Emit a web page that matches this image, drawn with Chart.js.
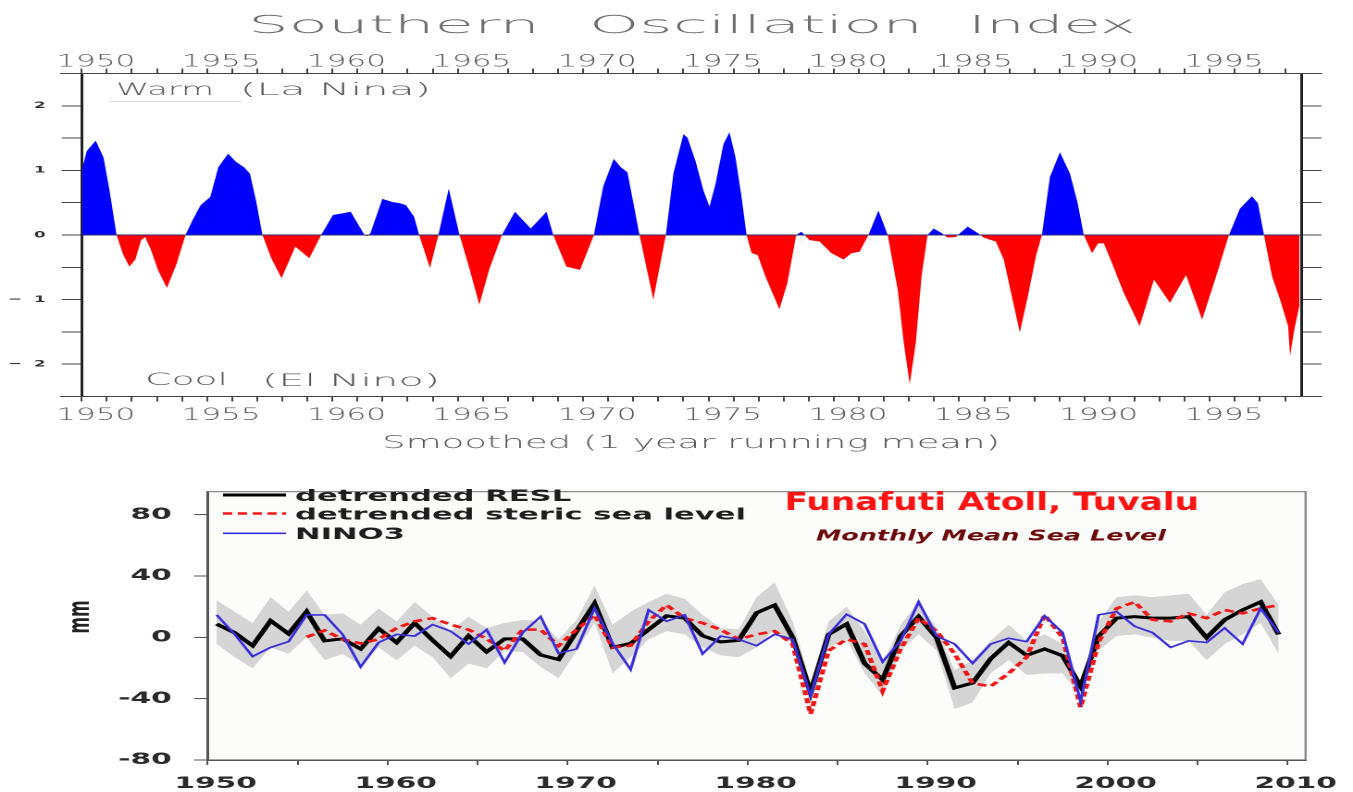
<!DOCTYPE html>
<html>
<head>
<meta charset="utf-8">
<script src="https://cdn.jsdelivr.net/npm/chart.js@4.4.1/dist/chart.umd.min.js"></script>
<style>
  html, body { margin: 0; padding: 0; background: #fff; }
  #fig { position: relative; width: 1353px; height: 792px; overflow: hidden; background: #fff; }
  #fig canvas { position: absolute; left: 0; }
  #soi { top: 0; }
  #msl { top: 470px; }
</style>
</head>
<body>
<div id="fig">
  <canvas id="soi" width="731" height="460" style="width:1353px;height:460px"></canvas>
  <canvas id="msl" width="731" height="322" style="width:1353px;height:322px"></canvas>
</div>
<script>
// ---------- Southern Oscillation Index (1-year running mean) ----------
const soiYear = [
  1950.00, 1950.20, 1950.56, 1950.87, 1951.11, 1951.39, 1951.65, 1951.90, 1952.14, 1952.37,
  1952.53, 1952.75, 1953.05, 1953.40, 1953.79, 1954.14, 1954.42, 1954.74, 1955.13, 1955.45,
  1955.84, 1956.16, 1956.47, 1956.71, 1956.95, 1957.21, 1957.55, 1957.97, 1958.52, 1959.08,
  1959.55, 1960.02, 1960.34, 1960.73, 1961.28, 1961.40, 1961.52, 1961.99, 1962.39, 1962.71,
  1962.94, 1963.26, 1963.46, 1963.89, 1964.21, 1964.64, 1965.07, 1965.45, 1965.86, 1966.25,
  1966.76, 1967.28, 1967.91, 1968.54, 1968.81, 1969.33, 1969.88, 1970.43, 1970.80, 1971.22,
  1971.50, 1971.77, 1972.25, 1972.80, 1973.30, 1973.60, 1974.00, 1974.16, 1974.48, 1974.80,
  1975.04, 1975.28, 1975.60, 1975.84, 1976.08, 1976.32, 1976.52, 1976.72, 1976.96, 1977.27,
  1977.83, 1978.15, 1978.50, 1978.71, 1979.03, 1979.43, 1979.90, 1980.39, 1980.71, 1981.03,
  1981.38, 1981.78, 1982.15, 1982.55, 1982.79, 1983.03, 1983.27, 1983.50, 1983.74, 1983.98,
  1984.30, 1984.54, 1984.86, 1985.34, 1985.74, 1985.98, 1986.46, 1986.78, 1987.10, 1987.42,
  1987.74, 1988.06, 1988.30, 1988.62, 1989.02, 1989.42, 1989.73, 1989.97, 1990.30, 1990.54,
  1990.77, 1991.10, 1991.57, 1992.20, 1992.77, 1993.41, 1994.05, 1994.69, 1995.25, 1995.76,
  1996.20, 1996.68, 1996.92, 1997.16, 1997.48, 1997.80, 1998.12, 1998.20, 1998.37, 1998.57
];
const soiValue = [
   1.00,  1.30,  1.46,  1.20,  0.69,  0.00, -0.30, -0.49, -0.38, -0.08,
  -0.03, -0.22, -0.55, -0.82, -0.44,  0.00,  0.23,  0.46,  0.59,  1.05,
   1.26,  1.13,  1.05,  0.95,  0.54,  0.00, -0.35, -0.67, -0.18, -0.36,
   0.00,  0.31,  0.33,  0.36,  0.00, -0.02,  0.03,  0.56,  0.51,  0.49,
   0.46,  0.28,  0.00, -0.51, -0.03,  0.72,  0.00, -0.50, -1.08, -0.54,
   0.00,  0.36,  0.10,  0.36,  0.00, -0.49, -0.54,  0.00,  0.75,  1.18,
   1.05,  0.97,  0.00, -1.00,  0.00,  0.95,  1.56,  1.51,  1.15,  0.69,
   0.44,  0.79,  1.41,  1.59,  1.20,  0.59,  0.00, -0.28, -0.31, -0.64,
  -1.15, -0.74,  0.00,  0.05, -0.08, -0.10, -0.28, -0.38, -0.28, -0.26,
   0.00,  0.38,  0.00, -0.85, -1.67, -2.31, -1.67, -0.64,  0.00,  0.10,
   0.03, -0.04, -0.03,  0.13,  0.03, -0.04, -0.10, -0.38, -0.95, -1.51,
  -0.95, -0.33,  0.00,  0.90,  1.28,  0.95,  0.49,  0.00, -0.28, -0.13,
  -0.13, -0.44, -0.90, -1.41, -0.69, -1.05, -0.62, -1.31, -0.64,  0.00,
   0.41,  0.60,  0.49,  0.00, -0.64, -1.00, -1.41, -1.87, -1.46, -1.10
];
const soiLabelYears = [1950, 1955, 1960, 1965, 1970, 1975, 1980, 1985, 1990, 1995];
const soiLabelValues = [-2, -1, 0, 1, 2];

// ---------- Funafuti annual sea level anomalies (mm) ----------
const slYears = [
  1950, 1951, 1952, 1953, 1954, 1955, 1956, 1957, 1958, 1959,
  1960, 1961, 1962, 1963, 1964, 1965, 1966, 1967, 1968, 1969,
  1970, 1971, 1972, 1973, 1974, 1975, 1976, 1977, 1978, 1979,
  1980, 1981, 1982, 1983, 1984, 1985, 1986, 1987, 1988, 1989,
  1990, 1991, 1992, 1993, 1994, 1995, 1996, 1997, 1998, 1999,
  2000, 2001, 2002, 2003, 2004, 2005, 2006, 2007, 2008, 2009
];
const reslValues = [
    8.7,   3.0,  -5.5,  10.8,   2.3,  16.7,  -2.3,  -1.0,  -7.6,   5.7,
   -3.4,   9.3,  -1.9, -12.5,   1.0,  -9.5,  -1.0,  -1.0, -11.5, -14.5,
    4.0,  22.0,  -6.6,  -4.0,   5.0,  14.0,  12.5,   1.0,  -3.0,  -2.0,
   16.0,  21.0,   0.0, -36.0,   1.9,   8.7, -17.0, -27.7,   0.8,  13.5,
   -0.2, -33.0, -29.8, -14.0,  -3.4, -11.8,  -7.6, -12.0, -32.0,   0.8,
   12.5,  13.5,  12.5,  12.5,  13.5,  -0.2,  11.4,  17.8,  23.1,   1.9
];
const stericValues = [
   null,  null,  null,  null,  null,   0.2,   4.5,  -1.3,  -4.0,  -1.3,
    6.0,  10.4,  12.5,   8.3,   5.0,  -1.0,  -8.7,   5.0,   5.0,  -5.5,
    5.0,  14.6,  -6.6,  -5.5,  10.4,  21.0,  12.5,   9.3,   5.0,  -1.3,
    1.9,   4.0,  -4.4, -50.0,  -8.7,  -1.3,  -4.4, -35.0,  -7.6,  12.5,
    4.0, -10.8, -30.0, -32.0, -23.5, -13.0,  14.6,  -0.2, -45.7,  -3.4,
   18.8,  23.0,  11.4,  10.4,  15.6,  12.5,  17.8,  15.6,  18.8,  21.0
];
const nino3Values = [
   14.6,   2.0, -12.5,  -6.6,  -2.8,  14.6,  14.6,   1.9, -19.3,  -3.4,
    1.9,   0.8,   8.3,   4.0,  -4.4,   5.0, -16.5,   3.0,  13.5, -10.5,
   -7.6,  19.0,  -4.0, -21.0,  17.8,  10.4,  14.6, -10.8,   0.8,  -1.3,
   -5.5,   2.0,  -1.3, -38.0,   1.9,  15.0,   8.7, -16.0,  -2.3,  23.1,
    0.8,  -4.4, -17.0,  -4.4,  -0.6,  -2.8,  14.0,   3.0, -42.0,  14.6,
   16.7,   7.2,   3.0,  -6.6,  -2.3,  -3.4,   6.1,  -4.4,  18.8,   3.0
];
const bandUpper = [
   24.1,  16.7,   9.3,  26.2,  16.7,  30.5,  14.6,  15.7,   8.3,  18.8,
   10.4,  23.1,  13.5,   4.0,  13.5,   6.1,   9.3,  11.4,  10.4,  -1.3,
   11.4,  33.7,   8.3,  16.7,  23.0,  28.4,  25.2,  14.6,   6.1,   5.1,
   26.2,  35.8,  10.4, -29.8,  10.4,  19.9,   4.0, -17.0,   8.3,  23.1,
    6.1, -21.4, -15.0,  -2.3,   8.3,  -2.3,   1.9,  -4.4, -29.8,  10.4,
   26.2,  27.3,  26.2,  27.3,  28.4,  14.6,  29.4,  34.7,  37.9,  21.0
];
const bandLower = [
   -4.4, -12.9, -20.3,  -6.6, -10.8,   0.0, -15.0, -10.8, -18.2,  -6.6,
  -15.0,  -5.5, -12.9, -26.7, -17.1, -20.3,  -8.7,  -9.7, -19.3, -26.7,
   -8.7,   9.3, -23.5, -12.9,  -1.3,   4.0,   1.9,  -6.6, -11.8, -12.9,
   -6.6,   5.1,  -4.4, -44.7,  -6.6,  -1.3, -23.5, -38.3,  -8.7,   1.9,
   -8.7, -46.8, -42.5, -23.5, -15.0, -24.6, -23.5, -23.5, -38.3,  -8.7,
    0.9,   1.9,  -0.2,  -2.3,  -2.3, -15.0,  -4.4,   1.9,   9.3, -10.8
];
const slYTicks = [-80, -40, 0, 40, 80];
const slXLabels = [1950, 1960, 1970, 1980, 1990, 2000, 2010];

// ---------- drawing helpers ----------
const CANVAS_W = 731;                 // canvas units across the figure
const STRETCH = 1353 / CANVAS_W;      // the figure is drawn wide
const sx = px => px / STRETCH;        // page x (px) -> canvas units
const FONT = '"DejaVu Sans", "Liberation Sans", sans-serif';

function fitText(ctx, str, x0, x1, baseline, font, color) {
  ctx.save();
  ctx.font = font;
  ctx.fillStyle = color;
  ctx.textAlign = 'left';
  ctx.textBaseline = 'alphabetic';
  const w = ctx.measureText(str).width;
  ctx.translate(x0, baseline);
  ctx.scale((x1 - x0) / w, 1);
  ctx.fillText(str, 0, 0);
  ctx.restore();
}

function hLine(ctx, x0, x1, y, color, width) {
  ctx.save();
  ctx.strokeStyle = color;
  ctx.lineWidth = width;
  ctx.beginPath();
  ctx.moveTo(x0, y);
  ctx.lineTo(x1, y);
  ctx.stroke();
  ctx.restore();
}

// ---------- top panel: SOI ----------
const SOI_TOP = 73.5, SOI_BOTTOM = 396.5, SOI_LEFT = sx(81.7), SOI_RIGHT = sx(1301.6);

const soiDecor = {
  id: 'soiDecor',
  afterDatasetsDraw(chart) {
    const { ctx, chartArea: a, scales } = chart;
    hLine(ctx, a.left, a.right, scales.y.getPixelForValue(0), '#2c2c70', 1);
  },
  afterDraw(chart) {
    const { ctx, chartArea: a, scales } = chart;
    const gray = '#585858';
    // axis lines run a little past the frame
    hLine(ctx, sx(60), sx(1322), a.top, '#444', 1);
    hLine(ctx, sx(60), sx(1322), a.bottom, '#444', 1);

    // title
    const tFont = '300 25px ' + FONT;
    fitText(ctx, 'Southern', sx(248), sx(540), 33, tFont, '#6e6e6e');
    fitText(ctx, 'Oscillation', sx(589), sx(923), 33, tFont, '#6e6e6e');
    fitText(ctx, 'Index', sx(968), sx(1136), 33, tFont, '#6e6e6e');

    // year labels on both horizontal axes
    const lFont = '300 16.5px ' + FONT;
    soiLabelYears.forEach(yr => {
      const c = scales.x.getPixelForValue(yr) + sx(14);
      fitText(ctx, String(yr), c - sx(39.5), c + sx(39.5), 66.5, lFont, gray);
      fitText(ctx, String(yr), c - sx(39.5), c + sx(39.5), 420, lFont, gray);
    });

    // index labels on the left
    ctx.save();
    ctx.font = 'bold 9px ' + FONT;
    ctx.fillStyle = '#333';
    ctx.textAlign = 'right';
    ctx.textBaseline = 'middle';
    soiLabelValues.forEach(v => {
      const py = scales.y.getPixelForValue(v);
      ctx.fillText(String(Math.abs(v)), sx(45.5), py);
      if (v < 0) ctx.fillText('\u2212', sx(22), py);
    });
    ctx.restore();

    // annotations
    const aFont = '300 17px ' + FONT;
    fitText(ctx, 'Warm', sx(116), sx(214), 95, aFont, gray);
    fitText(ctx, '(La Nina)', sx(240), sx(431), 95, aFont, gray);
    hLine(ctx, sx(109), sx(241), 101.5, '#dcdcdc', 1);
    fitText(ctx, 'Cool', sx(145), sx(228), 385, aFont, gray);
    fitText(ctx, '(El Nino)', sx(262), sx(440), 386, aFont, gray);
    fitText(ctx, 'Smoothed (1 year running mean)', sx(382), sx(1000), 448, '300 18px ' + FONT, gray);
  }
};

const soiAxisX = (position, height) => ({
  type: 'linear',
  position,
  min: 1950,
  max: 1998.66,
  ticks: { stepSize: 1, autoSkip: false, includeBounds: false, display: false },
  grid: { drawOnChartArea: false, drawTicks: true, tickLength: 5, color: '#444', lineWidth: 1 },
  border: { display: true, color: '#444', width: 1 },
  afterFit: s => { s.height = height; }
});
const soiAxisY = (position, width, tick) => ({
  type: 'linear',
  position,
  min: -2.5,
  max: 2.5,
  ticks: { stepSize: 0.5, includeBounds: false, display: false },
  grid: { drawOnChartArea: false, drawTicks: true, tickLength: tick, color: '#444', lineWidth: 1 },
  border: { display: true, color: '#222', width: 1.5 },
  afterFit: s => { s.width = width; }
});

new Chart(document.getElementById('soi'), {
  type: 'line',
  data: {
    datasets: [{
      label: 'SOI',
      data: soiYear.map((x, i) => ({ x, y: soiValue[i] })),
      borderWidth: 0,
      borderColor: 'rgba(0,0,0,0)',
      pointRadius: 0,
      tension: 0,
      fill: { target: 'origin', above: '#0000ff', below: '#ff0000' }
    }]
  },
  options: {
    responsive: false,
    devicePixelRatio: 2,
    animation: false,
    events: [],
    layout: { padding: 0 },
    plugins: { legend: { display: false }, tooltip: { enabled: false } },
    scales: {
      x: soiAxisX('bottom', 460 - SOI_BOTTOM),
      x2: soiAxisX('top', SOI_TOP),
      y: soiAxisY('left', SOI_LEFT, sx(20)),
      y2: soiAxisY('right', CANVAS_W - SOI_RIGHT, sx(20))
    }
  },
  plugins: [soiDecor]
});

// ---------- bottom panel: Funafuti sea level ----------
const MSL_TOP = 13.3, MSL_BOTTOM = 290, MSL_LEFT = sx(207.6), MSL_RIGHT = sx(1305.6);
const legendOrder = [2, 1, 0];

const mslDecor = {
  id: 'mslDecor',
  beforeDraw(chart) {
    const { ctx, chartArea: a } = chart;
    ctx.save();
    ctx.fillStyle = '#fcfcfa';
    ctx.fillRect(a.left, a.top, a.right - a.left, a.bottom - a.top);
    ctx.restore();
  },
  afterDraw(chart) {
    const { ctx, chartArea: a } = chart;
    // frame on top and right
    ctx.save();
    ctx.strokeStyle = '#8a8a8a';
    ctx.lineWidth = 1.2;
    ctx.beginPath();
    ctx.moveTo(a.left, a.top);
    ctx.lineTo(a.right, a.top);
    ctx.lineTo(a.right, a.bottom);
    ctx.stroke();
    ctx.restore();

    // legend
    const lgFont = 'bold 16px ' + FONT;
    ctx.save();
    ctx.font = lgFont;
    const longest = Math.max(...legendOrder.map(i => ctx.measureText(chart.data.datasets[i].label).width));
    ctx.restore();
    const k = (sx(746) - sx(295)) / longest;
    const rows = [25, 43.5, 63.3];
    legendOrder.forEach((i, r) => {
      const ds = chart.data.datasets[i];
      ctx.save();
      ctx.strokeStyle = ds.borderColor;
      ctx.lineWidth = ds.borderWidth;
      ctx.setLineDash(ds.borderDash || []);
      ctx.beginPath();
      ctx.moveTo(sx(223), rows[r]);
      ctx.lineTo(sx(286), rows[r]);
      ctx.stroke();
      ctx.restore();
      ctx.save();
      ctx.font = lgFont;
      const w = ctx.measureText(ds.label).width;
      ctx.restore();
      fitText(ctx, ds.label, sx(295), sx(295) + w * k, rows[r] + 5.8, lgFont, '#1e1e1e');
    });

    // titles
    fitText(ctx, 'Funafuti Atoll, Tuvalu', sx(784.5), sx(1199), 40, 'bold 25px ' + FONT, '#ff1414');
    fitText(ctx, 'Monthly Mean Sea Level', sx(816), sx(1166), 70.5, 'italic bold 15px ' + FONT, '#6b0b0b');

    // axis title
    ctx.save();
    ctx.translate(sx(81.5), 147);
    ctx.rotate(-Math.PI / 2);
    ctx.font = 'bold 16px ' + FONT;
    ctx.fillStyle = '#222';
    ctx.textAlign = 'center';
    ctx.textBaseline = 'middle';
    ctx.fillText('mm', 0, 0);
    ctx.restore();
  }
};

const mid = y => y + 0.5;
const series = vals => slYears.map((y, i) => ({ x: mid(y), y: vals[i] }));
const tickFont = { family: FONT, size: 16, weight: 'bold' };

new Chart(document.getElementById('msl'), {
  type: 'line',
  data: {
    datasets: [
      { label: 'NINO3', data: series(nino3Values), borderColor: '#3a2ed8', borderWidth: 1.6,
        pointRadius: 0, tension: 0, fill: false, order: 0 },
      { label: 'detrended steric sea level', data: series(stericValues), borderColor: '#f01818',
        borderWidth: 2.6, borderDash: [5, 3], pointRadius: 0, tension: 0, fill: false, order: 1 },
      { label: 'detrended RESL', data: series(reslValues), borderColor: '#000000', borderWidth: 3,
        pointRadius: 0, tension: 0, fill: false, order: 2 },
      { label: 'upper', data: series(bandUpper), borderWidth: 0, borderColor: 'rgba(0,0,0,0)',
        backgroundColor: '#d5d5d5', pointRadius: 0, tension: 0, fill: '+1', order: 3 },
      { label: 'lower', data: series(bandLower), borderWidth: 0, borderColor: 'rgba(0,0,0,0)',
        pointRadius: 0, tension: 0, fill: false, order: 4 }
    ]
  },
  options: {
    responsive: false,
    devicePixelRatio: 2,
    animation: false,
    events: [],
    layout: { padding: { top: MSL_TOP, right: CANVAS_W - MSL_RIGHT, left: 0, bottom: 0 } },
    plugins: { legend: { display: false }, tooltip: { enabled: false } },
    scales: {
      x: {
        type: 'linear', min: 1950, max: 2011,
        ticks: {
          stepSize: 5, autoSkip: false, includeBounds: false, maxRotation: 0,
          font: tickFont, color: '#2a2a2a', padding: 9, labelOffset: sx(8),
          callback: v => slXLabels.includes(v) ? String(v) : ''
        },
        grid: { drawOnChartArea: false, tickLength: 5, color: '#555' },
        border: { display: true, color: '#555', width: 1.5 },
        afterFit: s => { s.height = 322 - MSL_BOTTOM; }
      },
      y: {
        type: 'linear', min: -80, max: 95,
        afterBuildTicks: s => { s.ticks = slYTicks.map(value => ({ value })); },
        ticks: { font: tickFont, color: '#2a2a2a', padding: 12 },
        grid: { drawOnChartArea: false, tickLength: sx(13.6), color: '#555' },
        border: { display: true, color: '#555', width: 1.5 },
        afterFit: s => { s.width = MSL_LEFT; }
      }
    }
  },
  plugins: [mslDecor]
});
</script>
</body>
</html>
